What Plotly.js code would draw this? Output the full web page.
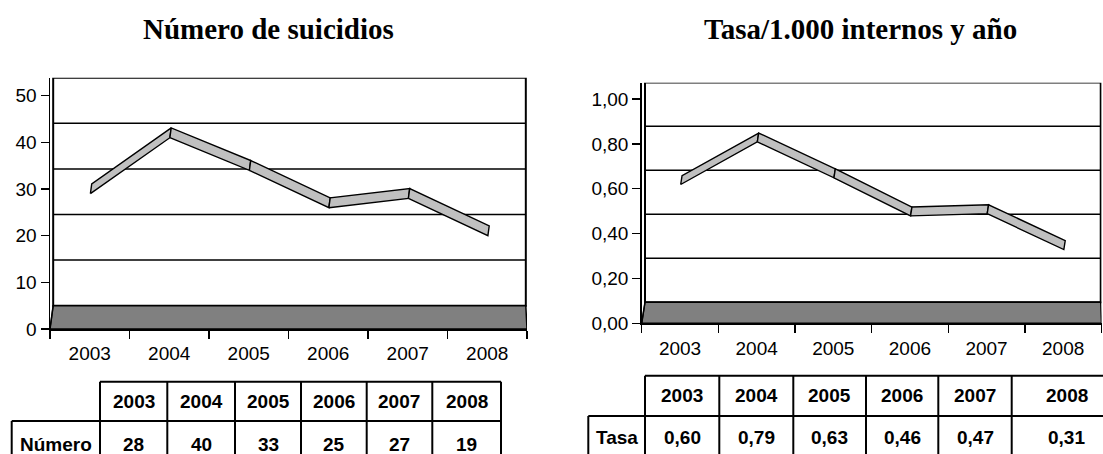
<!DOCTYPE html>
<html>
<head>
<meta charset="utf-8">
<script src="https://cdn.plot.ly/plotly-3.0.1.min.js"></script>
<style>html,body{margin:0;padding:0;background:#fff;}#chart{width:1103px;height:454px;}</style>
</head>
<body>
<div id="chart"></div>
<script>
// ---- data ----
const years = ["2003", "2004", "2005", "2006", "2007", "2008"];
const numero = [28, 40, 33, 25, 27, 19];
const tasa = [0.60, 0.79, 0.63, 0.46, 0.47, 0.31];
const numeroLabels = ["28", "40", "33", "25", "27", "19"];
const tasaLabels = ["0,60", "0,79", "0,63", "0,46", "0,47", "0,31"];
const titleLeft = "Número de suicidios";
const titleRight = "Tasa/1.000 internos y año";
const rowLabelLeft = "Número";
const rowLabelRight = "Tasa";
const yTicksLeft = [0, 10, 20, 30, 40, 50];
const yTicksRight = [0, 0.2, 0.4, 0.6, 0.8, 1.0];

// ---- layout helpers ----
const W = 1103, H = 454;
const px = x => x / W;
const py = y => 1 - y / H;

const charts = [
  {xa: "x", ya: "y", xk: "xaxis", yk: "yaxis", x0: 50, x1: 527, yb: 329, yt: 77.7,
   ymax: 53.86, depth: 5, scale: 0.977, wallTop: 50, wallDx: 0.04, wallDxR: 0.015,
   values: numero, ticks: yTicksLeft, fmt: "d"},
  {xa: "x2", ya: "y2", xk: "xaxis2", yk: "yaxis2", x0: 641.7, x1: 1101.5, yb: 323.3, yt: 82.7,
   ymax: 1.0727, depth: 0.094, scale: 0.98, wallTop: 1.0, wallDx: 0.043, wallDxR: 0.01,
   values: tasa, ticks: yTicksRight, fmt: ".2f"}
];

const tickFont = {family: "Liberation Sans, Arial, sans-serif", size: 19, color: "#000"};
const boldFont = {family: "Liberation Sans, Arial, sans-serif", size: 19, color: "#000", weight: "bold"};
const titleFont = {family: "Liberation Serif, Times New Roman, serif", size: 29, color: "#000", weight: "bold"};

const layout = {
  width: W, height: H, margin: {l: 0, r: 0, t: 0, b: 0},
  paper_bgcolor: "#fff", plot_bgcolor: "rgba(0,0,0,0)",
  showlegend: false, separators: ",.",
  shapes: [], annotations: []
};
const traces = [];
const xIdx = years.map((_, i) => i);
const boundaries = [-0.5, 0.5, 1.5, 2.5, 3.5, 4.5, 5.5];

charts.forEach(c => {
  layout[c.xk] = {
    domain: [px(c.x0), px(c.x1)], range: [-0.5, 5.5], anchor: c.ya,
    tickmode: "array", tickvals: xIdx, ticktext: years,
    ticks: "outside", ticklen: 7, tickcolor: "rgba(0,0,0,0)",
    minor: {tickmode: "array", tickvals: boundaries, ticks: "outside", ticklen: 8, tickwidth: 1.3, tickcolor: "#000", showgrid: false},
    showline: true, linecolor: "#000", linewidth: 1.5,
    showgrid: false, zeroline: false, tickfont: tickFont, fixedrange: true
  };
  layout[c.yk] = {
    domain: [py(c.yb), py(c.yt)], range: [0, c.ymax], anchor: c.xa,
    tickmode: "array", tickvals: c.ticks, tickformat: c.fmt,
    ticks: "outside", ticklen: 8, tickwidth: 1.3, tickcolor: "#000",
    showline: true, linecolor: "#000", linewidth: 1.5,
    showgrid: false, zeroline: false, tickfont: tickFont, fixedrange: true
  };
  const back = v => c.depth + v * c.scale;
  const bl = -0.5 + c.wallDx, br = 5.5 - c.wallDxR;
  // back wall
  layout.shapes.push({type: "rect", xref: c.xa, yref: c.ya, x0: bl, x1: br, y0: back(0), y1: back(c.wallTop),
    fillcolor: "#fff", line: {color: "#000", width: 2}, layer: "below"});
  // back gridlines
  c.ticks.slice(1, -1).forEach(v => {
    layout.shapes.push({type: "line", xref: c.xa, yref: c.ya, x0: bl, x1: br, y0: back(v), y1: back(v),
      line: {color: "#000", width: 1.5}, layer: "below"});
  });
  // floor
  layout.shapes.push({type: "path", xref: c.xa, yref: c.ya,
    path: `M -0.5 0 L 5.5 0 L ${br} ${back(0)} L ${bl} ${back(0)} Z`,
    fillcolor: "#808080", line: {color: "#000", width: 1.5}, layer: "below"});
  // left wall edge
  layout.shapes.push({type: "line", xref: c.xa, yref: c.ya, x0: -0.5, y0: 0, x1: bl, y1: back(0),
    line: {color: "#000", width: 1.2}, layer: "below"});
  // ribbon segments
  const loF = 0.2, hiF = 0.62;
  for (let i = 0; i < c.values.length - 1; i++) {
    const a = c.values[i], b = c.values[i + 1];
    const xl = k => k + c.wallDx * loF, xh = k => k + c.wallDx * hiF;
    traces.push({
      type: "scatter", mode: "lines", xaxis: c.xa, yaxis: c.ya,
      x: [xl(i), xl(i + 1), xh(i + 1), xh(i), xl(i)],
      y: [a + c.depth * loF, b + c.depth * loF, b + c.depth * hiF, a + c.depth * hiF, a + c.depth * loF],
      fill: "toself", fillcolor: "#c0c0c0", line: {color: "#000", width: 1.4},
      hoverinfo: "skip"
    });
  }
});

// titles
layout.annotations.push({text: titleLeft, xref: "paper", yref: "paper", x: px(268), y: py(29),
  xanchor: "center", yanchor: "middle", showarrow: false, font: titleFont});
layout.annotations.push({text: titleRight, xref: "paper", yref: "paper", x: px(860), y: py(29),
  xanchor: "center", yanchor: "middle", showarrow: false, font: titleFont});

// data tables
const tables = [
  {cols: [100, 167.3, 235, 301, 366.7, 432.3, 501], labelLeft: 11.7, top: 381.7, mid: 421, bottom: 470,
   headY: 401.3, valY: 444.3, label: rowLabelLeft, vals: numeroLabels},
  {cols: [645, 719.3, 793.3, 866, 938.3, 1011.7, 1122], labelLeft: 588.3, top: 375.7, mid: 416, bottom: 470,
   headY: 395.7, valY: 437, label: rowLabelRight, vals: tasaLabels}
];
const tl = (x0, y0, x1, y1) => layout.shapes.push({type: "line", xref: "paper", yref: "paper",
  x0: px(x0), y0: py(y0), x1: px(x1), y1: py(y1), line: {color: "#000", width: 2}});
tables.forEach(t => {
  const last = t.cols[t.cols.length - 1];
  tl(t.cols[0], t.top, last, t.top);
  tl(t.labelLeft, t.mid, last, t.mid);
  t.cols.forEach(cx => tl(cx, t.top, cx, t.bottom));
  tl(t.labelLeft, t.mid, t.labelLeft, t.bottom);
  years.forEach((yr, i) => {
    const cx = (t.cols[i] + t.cols[i + 1]) / 2;
    const xc = i === years.length - 1 && t.cols[i + 1] > W ? t.cols[i] + 55 : cx;
    layout.annotations.push({text: yr, xref: "paper", yref: "paper", x: px(xc), y: py(t.headY),
      xanchor: "center", yanchor: "middle", showarrow: false, font: boldFont});
    layout.annotations.push({text: t.vals[i], xref: "paper", yref: "paper", x: px(xc), y: py(t.valY),
      xanchor: "center", yanchor: "middle", showarrow: false, font: boldFont});
  });
  layout.annotations.push({text: t.label, xref: "paper", yref: "paper", x: px((t.labelLeft + t.cols[0]) / 2),
    y: py(t.valY), xanchor: "center", yanchor: "middle", showarrow: false, font: boldFont});
});

Plotly.newPlot("chart", traces, layout, {staticPlot: true, displayModeBar: false});
</script>
</body>
</html>
